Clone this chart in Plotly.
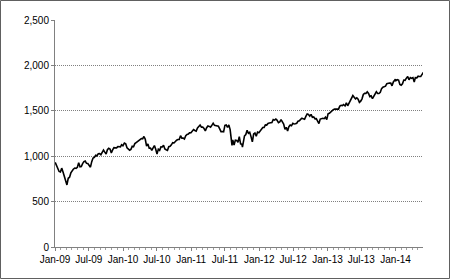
import plotly.graph_objects as go
import pandas as pd

# Weekly closing values (approx.) Jan 2009 - May 2014
dates_2009 = ["2009-01-02","2009-01-09","2009-01-16","2009-01-23","2009-01-30","2009-02-06","2009-02-13","2009-02-20","2009-02-27","2009-03-06","2009-03-13","2009-03-20","2009-03-27","2009-04-03","2009-04-09","2009-04-17","2009-04-24","2009-05-01","2009-05-08","2009-05-15","2009-05-22","2009-05-29","2009-06-05","2009-06-12","2009-06-19","2009-06-26","2009-07-02","2009-07-10","2009-07-17","2009-07-24","2009-07-31","2009-08-07","2009-08-14","2009-08-21","2009-08-28","2009-09-04","2009-09-11","2009-09-18","2009-09-25","2009-10-02","2009-10-09","2009-10-16","2009-10-23","2009-10-30","2009-11-06","2009-11-13","2009-11-20","2009-11-27","2009-12-04","2009-12-11","2009-12-18","2009-12-24","2009-12-31"]
values_2009 = [931.8,890.4,850.1,831.9,825.9,868.6,826.8,770.1,735.1,683.4,756.6,768.5,815.9,842.5,856.6,869.6,866.2,877.5,929.2,882.9,887.0,919.1,940.1,946.2,921.2,918.9,896.4,879.1,940.4,979.3,987.5,1010.5,1004.1,1026.1,1028.9,1016.4,1042.7,1068.3,1044.4,1025.2,1071.5,1087.7,1079.6,1036.2,1069.3,1093.5,1091.4,1091.5,1106.0,1106.4,1102.5,1126.5,1115.1]

dates_2010 = ["2010-01-08","2010-01-15","2010-01-22","2010-01-29","2010-02-05","2010-02-12","2010-02-19","2010-02-26","2010-03-05","2010-03-12","2010-03-19","2010-03-26","2010-04-02","2010-04-09","2010-04-16","2010-04-23","2010-04-30","2010-05-07","2010-05-14","2010-05-21","2010-05-28","2010-06-04","2010-06-11","2010-06-18","2010-06-25","2010-07-02","2010-07-09","2010-07-16","2010-07-23","2010-07-30","2010-08-06","2010-08-13","2010-08-20","2010-08-27","2010-09-03","2010-09-10","2010-09-17","2010-09-24","2010-10-01","2010-10-08","2010-10-15","2010-10-22","2010-10-29","2010-11-05","2010-11-12","2010-11-19","2010-11-26","2010-12-03","2010-12-10","2010-12-17","2010-12-23","2010-12-31"]
values_2010 = [1145.0,1136.0,1091.8,1073.9,1066.2,1075.5,1109.2,1104.5,1138.7,1150.0,1159.9,1166.6,1178.1,1194.4,1192.1,1217.3,1186.7,1110.9,1135.7,1087.7,1089.4,1064.9,1091.6,1117.5,1076.8,1022.6,1078.0,1064.9,1102.7,1101.6,1121.6,1079.3,1071.7,1064.6,1104.5,1109.6,1125.6,1148.7,1146.2,1165.2,1176.2,1183.1,1183.3,1225.9,1199.2,1199.7,1189.4,1224.7,1240.4,1243.9,1256.8,1257.6]

dates_2011 = ["2011-01-07","2011-01-14","2011-01-21","2011-01-28","2011-02-04","2011-02-11","2011-02-18","2011-02-25","2011-03-04","2011-03-11","2011-03-18","2011-03-25","2011-04-01","2011-04-08","2011-04-15","2011-04-21","2011-04-29","2011-05-06","2011-05-13","2011-05-20","2011-05-27","2011-06-03","2011-06-10","2011-06-17","2011-06-24","2011-07-01","2011-07-08","2011-07-15","2011-07-22","2011-07-29","2011-08-05","2011-08-08","2011-08-12","2011-08-19","2011-08-26","2011-09-02","2011-09-09","2011-09-16","2011-09-23","2011-09-30","2011-10-03","2011-10-07","2011-10-14","2011-10-21","2011-10-28","2011-11-04","2011-11-11","2011-11-18","2011-11-25","2011-12-02","2011-12-09","2011-12-16","2011-12-23","2011-12-30"]
values_2011 = [1271.5,1293.2,1283.4,1276.3,1310.9,1329.2,1343.0,1319.9,1321.2,1304.3,1279.2,1313.8,1332.4,1328.2,1319.7,1337.4,1363.6,1340.2,1337.8,1333.3,1331.1,1300.2,1271.0,1271.5,1268.5,1339.7,1343.8,1316.1,1345.0,1292.3,1199.4,1119.5,1178.8,1123.5,1176.8,1174.0,1154.2,1216.0,1136.4,1131.4,1099.2,1155.5,1224.6,1238.3,1285.1,1253.2,1263.9,1215.7,1158.7,1244.3,1255.2,1219.7,1265.3,1257.6]

dates_2012 = ["2012-01-06","2012-01-13","2012-01-20","2012-01-27","2012-02-03","2012-02-10","2012-02-17","2012-02-24","2012-03-02","2012-03-09","2012-03-16","2012-03-23","2012-03-30","2012-04-05","2012-04-13","2012-04-20","2012-04-27","2012-05-04","2012-05-11","2012-05-18","2012-05-25","2012-06-01","2012-06-08","2012-06-15","2012-06-22","2012-06-29","2012-07-06","2012-07-13","2012-07-20","2012-07-27","2012-08-03","2012-08-10","2012-08-17","2012-08-24","2012-08-31","2012-09-07","2012-09-14","2012-09-21","2012-09-28","2012-10-05","2012-10-12","2012-10-19","2012-10-26","2012-11-02","2012-11-09","2012-11-16","2012-11-23","2012-11-30","2012-12-07","2012-12-14","2012-12-21","2012-12-28","2012-12-31"]
values_2012 = [1277.8,1289.1,1315.4,1316.3,1344.9,1342.6,1361.2,1365.7,1369.6,1370.9,1404.2,1397.1,1408.5,1398.1,1370.3,1378.5,1403.4,1369.1,1353.4,1295.2,1317.8,1278.0,1325.7,1342.8,1335.0,1362.2,1354.7,1356.8,1362.7,1386.0,1391.0,1405.9,1418.2,1411.1,1406.6,1437.9,1465.8,1460.2,1440.7,1460.9,1428.6,1433.2,1411.9,1414.2,1379.9,1359.9,1409.2,1416.2,1418.1,1413.6,1430.2,1402.4,1426.2]

dates_2013 = ["2013-01-04","2013-01-11","2013-01-18","2013-01-25","2013-02-01","2013-02-08","2013-02-15","2013-02-22","2013-03-01","2013-03-08","2013-03-15","2013-03-22","2013-03-28","2013-04-05","2013-04-12","2013-04-19","2013-04-26","2013-05-03","2013-05-10","2013-05-17","2013-05-24","2013-05-31","2013-06-07","2013-06-14","2013-06-21","2013-06-28","2013-07-05","2013-07-12","2013-07-19","2013-07-26","2013-08-02","2013-08-09","2013-08-16","2013-08-23","2013-08-30","2013-09-06","2013-09-13","2013-09-20","2013-09-27","2013-10-04","2013-10-11","2013-10-18","2013-10-25","2013-11-01","2013-11-08","2013-11-15","2013-11-22","2013-11-29","2013-12-06","2013-12-13","2013-12-20","2013-12-27","2013-12-31"]
values_2013 = [1466.5,1472.1,1486.0,1503.0,1513.2,1517.9,1519.8,1515.6,1518.2,1551.2,1560.7,1556.9,1569.2,1553.3,1588.9,1555.3,1582.2,1614.4,1633.7,1667.5,1649.6,1630.7,1643.4,1626.7,1592.4,1606.3,1631.9,1680.2,1692.1,1691.7,1709.7,1691.4,1655.8,1663.5,1633.0,1655.2,1688.0,1709.9,1691.8,1690.5,1703.2,1744.5,1759.8,1761.6,1770.6,1798.2,1804.8,1805.8,1805.1,1775.3,1818.3,1841.4,1848.4]

dates_2014 = ["2014-01-03","2014-01-10","2014-01-17","2014-01-24","2014-01-31","2014-02-07","2014-02-14","2014-02-21","2014-02-28","2014-03-07","2014-03-14","2014-03-21","2014-03-28","2014-04-04","2014-04-11","2014-04-17","2014-04-25","2014-05-02","2014-05-09","2014-05-16","2014-05-23","2014-05-30"]
values_2014 = [1831.4,1842.4,1838.7,1790.3,1782.6,1797.0,1838.6,1836.3,1859.5,1878.0,1841.1,1866.5,1857.6,1865.1,1815.7,1864.9,1863.4,1881.1,1878.5,1877.9,1900.5,1923.6]

dates = dates_2009 + dates_2010 + dates_2011 + dates_2012 + dates_2013 + dates_2014
values = values_2009 + values_2010 + values_2011 + values_2012 + values_2013 + values_2014

x_ticks = ["2009-01-01","2009-07-01","2010-01-01","2010-07-01","2011-01-01","2011-07-01","2012-01-01","2012-07-01","2013-01-01","2013-07-01","2014-01-01"]
x_labels = ["Jan-09","Jul-09","Jan-10","Jul-10","Jan-11","Jul-11","Jan-12","Jul-12","Jan-13","Jul-13","Jan-14"]
y_ticks = [0, 500, 1000, 1500, 2000, 2500]
y_labels = ["0", "500", "1,000", "1,500", "2,000", "2,500"]

fig = go.Figure()
fig.add_trace(go.Scatter(x=dates, y=values, mode="lines",
                         line=dict(color="black", width=1.6), showlegend=False))

W, H = 451, 279
L, R, T, B = 55, 28, 20, 32
pw, ph = W - L - R, H - T - B

fig.update_layout(
    width=W, height=H,
    margin=dict(l=L, r=R, t=T, b=B),
    paper_bgcolor="white", plot_bgcolor="white",
    font=dict(family="Liberation Sans, Arial, sans-serif", size=10, color="black"),
    xaxis=dict(range=["2009-01-01", "2014-05-28"], tickvals=x_ticks, ticktext=x_labels,
               showgrid=False, zeroline=False, showline=True, linecolor="#808080",
               linewidth=1, ticks="outside", ticklen=3, tickcolor="#808080",
               minor=dict(dtick="M1", ticks="outside", ticklen=2, tickcolor="#a0a0a0", showgrid=False),
               tickangle=0),
    yaxis=dict(range=[0, 2500], tickvals=y_ticks, ticktext=y_labels,
               showgrid=True, gridcolor="#808080", griddash="1px,1px", gridwidth=1,
               zeroline=False, showline=True, linecolor="#808080", linewidth=1,
               ticks="outside", ticklen=3, tickcolor="#808080"),
    shapes=[dict(type="rect", xref="paper", yref="paper",
                 x0=(-L + 0.5) / pw, x1=(pw + R - 1.5) / pw,
                 y0=(-B + 0.5) / ph, y1=(ph + T - 0.5) / ph,
                 line=dict(color="#606060", width=1), fillcolor="rgba(0,0,0,0)")],
)

fig.write_html("out.html")
